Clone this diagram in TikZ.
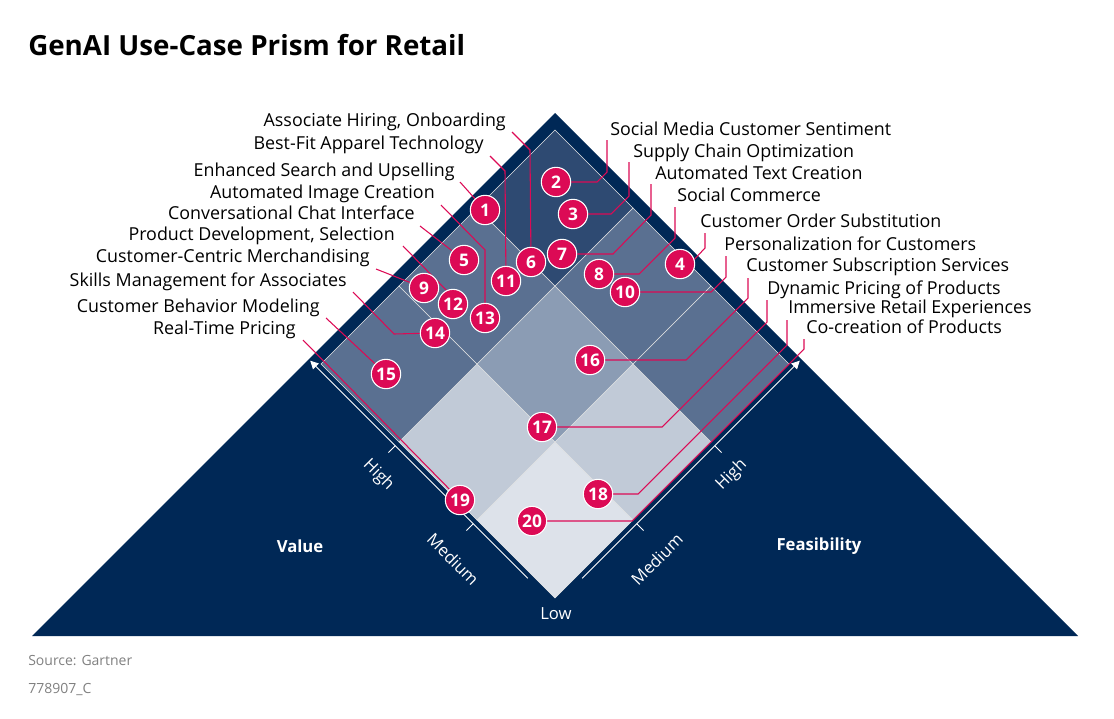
\documentclass[tikz,border=0pt]{standalone}
\usepackage{fontspec}
\setmainfont{Open Sans}
\usetikzlibrary{arrows.meta}
\definecolor{navy}{HTML}{002856}
\definecolor{cfour}{HTML}{2E4A72}
\definecolor{cthree}{HTML}{5A7091}
\definecolor{ctwo}{HTML}{8B9CB4}
\definecolor{cone}{HTML}{C1CAD7}
\definecolor{czero}{HTML}{DDE2EA}
\definecolor{crim}{HTML}{DC0A55}
\begin{document}
\begin{tikzpicture}[x=0.75pt,y=-0.75pt,
 lab/.style={font=\fontsize{13.4pt}{14pt}\selectfont, inner sep=0pt, text=black},
 llab/.style={lab, anchor=base east},
 rlab/.style={lab, anchor=base west},
 num/.style={circle, fill=crim, draw=white, line width=0.8pt, minimum size=22pt, inner sep=0pt, text=white, font=\bfseries\fontsize{13pt}{13pt}\selectfont},
 lead/.style={draw=crim, line width=0.8pt},
 cell/.style={draw=white!80!gray, line width=0.5pt},
 axl/.style={text=white, font=\fontsize{12.5pt}{12pt}\selectfont, inner sep=0pt}]
\useasboundingbox (0,0) rectangle (1114,718);
\node[anchor=base west, font=\bfseries\fontsize{20.8pt}{22pt}\selectfont, inner sep=0pt] (title) at (28,55) {GenAI Use-Case Prism for Retail};
\fill[navy] (555,113) -- (1078,636) -- (32,636) -- cycle;
\begin{scope}[shift={(555,598)}, x={(-175.5pt,175.5pt)}, y={(175.5pt,175.5pt)}]
 \foreach \i/\j/\cc in {0/0/czero,1/0/cone,0/1/cone,1/1/ctwo,2/0/cthree,2/1/cthree,0/2/cthree,1/2/cthree,2/2/cfour}{
  \filldraw[cell, fill=\cc] (\i/3,\j/3) -- ++(1/3,0) -- ++(0,1/3) -- ++(-1/3,0) -- cycle;
 }
 \draw[white, line width=0.6pt, -{Triangle[width=6pt,length=6pt]}] (0.1,-0.016) -- (1.03,-0.016);
 \draw[white, line width=0.6pt, -{Triangle[width=6pt,length=6pt]}] (-0.016,0.1) -- (-0.016,1.03);
 \foreach \t in {1/3,2/3}{
  \draw[white, line width=0.6pt] (\t,-0.016) -- (\t,-0.045);
  \draw[white, line width=0.6pt] (-0.016,\t) -- (-0.045,\t);
 }
 \node[axl, rotate=-45] (vh) at (0.64,-0.115) {High};
 \node[axl, rotate=-45] (vm) at (0.3,-0.135) {Medium};
 \node[axl, rotate=45] (fh) at (-0.115,0.64) {High};
 \node[axl, rotate=45] (fm) at (-0.135,0.3) {Medium};
\end{scope}
\node[axl] (low) at (556,614) {Low};
\node[axl, font=\bfseries\fontsize{12.5pt}{12pt}\selectfont] (val) at (300,546) {Value};
\node[axl, font=\bfseries\fontsize{12.5pt}{12pt}\selectfont] (fea) at (819,546) {Feasibility};
\foreach \n/\x/\y in {1/485/210,2/556/182,3/573/214,4/680/264,5/464/260,6/531/262,7/562/254,8/599/274,9/424/288,10/625/292,11/506/281,12/453/304,13/485/318,14/435/333,15/386/374,16/590/360,17/542/427,18/598/494,19/460/500,20/532/521}{
 \coordinate (p\n) at (\x,\y);
}
\node[llab] (t6) at (506,126) {Associate Hiring, Onboarding};
\node[llab] (t11) at (484,149) {Best-Fit Apparel Technology};
\node[llab] (t1) at (455,176) {Enhanced Search and Upselling};
\node[llab] (t13) at (435,198) {Automated Image Creation};
\node[llab] (t5) at (415,219) {Conversational Chat Interface};
\node[llab] (t12) at (395,240) {Product Development, Selection};
\node[llab] (t9) at (370,262) {Customer-Centric Merchandising};
\node[llab] (t14) at (347,286) {Skills Management for Associates};
\node[llab] (t15) at (320,312) {Customer Behavior Modeling};
\node[llab] (t19) at (296,334) {Real-Time Pricing};
\node[rlab] (t2) at (610,135) {Social Media Customer Sentiment};
\node[rlab] (t3) at (633,157) {Supply Chain Optimization};
\node[rlab] (t7) at (655,179) {Automated Text Creation};
\node[rlab] (t8) at (677,201) {Social Commerce};
\node[rlab] (t4) at (700,227) {Customer Order Substitution};
\node[rlab] (t10) at (724,250) {Personalization for Customers};
\node[rlab] (t16) at (746,271) {Customer Subscription Services};
\node[rlab] (t17) at (767,294) {Dynamic Pricing of Products};
\node[rlab] (t18) at (788,313) {Immersive Retail Experiences};
\node[rlab] (t20) at (806,333) {Co-creation of Products};
\draw[lead] (512,132) -- (530,150) -- (p6);
\draw[lead] (490,156) -- (505,171) -- (p11);
\draw[lead] (460,182) -- (p1);
\draw[lead] (441,205) -- (485,250) -- (p13);
\draw[lead] (420,226) -- (p5);
\draw[lead] (403,246) -- (451,295) -- (p12);
\draw[lead] (376,269) -- (p9);
\draw[lead] (353,292) -- (394,334) -- (p14);
\draw[lead] (326,318) -- (p15);
\draw[lead] (303,340) -- (p19);
\draw[lead] (607,140) -- (607,172) -- (597,182) -- (p2);
\draw[lead] (629,162) -- (629,196) -- (611,214) -- (p3);
\draw[lead] (651,184) -- (651,215) -- (613,254) -- (p7);
\draw[lead] (675,207) -- (675,238) -- (639,274) -- (p8);
\draw[lead] (705,233) -- (705,248) -- (690,264) -- (p4);
\draw[lead] (726,256) -- (726,277) -- (711,292) -- (p10);
\draw[lead] (748,278) -- (748,298) -- (686,360) -- (p16);
\draw[lead] (767,300) -- (767,322) -- (662,427) -- (p17);
\draw[lead] (787,320) -- (787,345) -- (638,494) -- (p18);
\draw[lead] (804,339) -- (804,349) -- (632,521) -- (p20);
\foreach \n in {1,...,20}{ \node[num] (c\n) at (p\n) {\n}; }
\node[anchor=base west, text=gray, font=\fontsize{10.5pt}{12pt}\selectfont, inner sep=0pt] (src) at (28,665) {Source: Gartner};
\node[anchor=base west, text=gray, font=\fontsize{10.5pt}{12pt}\selectfont, inner sep=0pt] (id) at (28,693) {778907\_C};
\end{tikzpicture}
\end{document}
